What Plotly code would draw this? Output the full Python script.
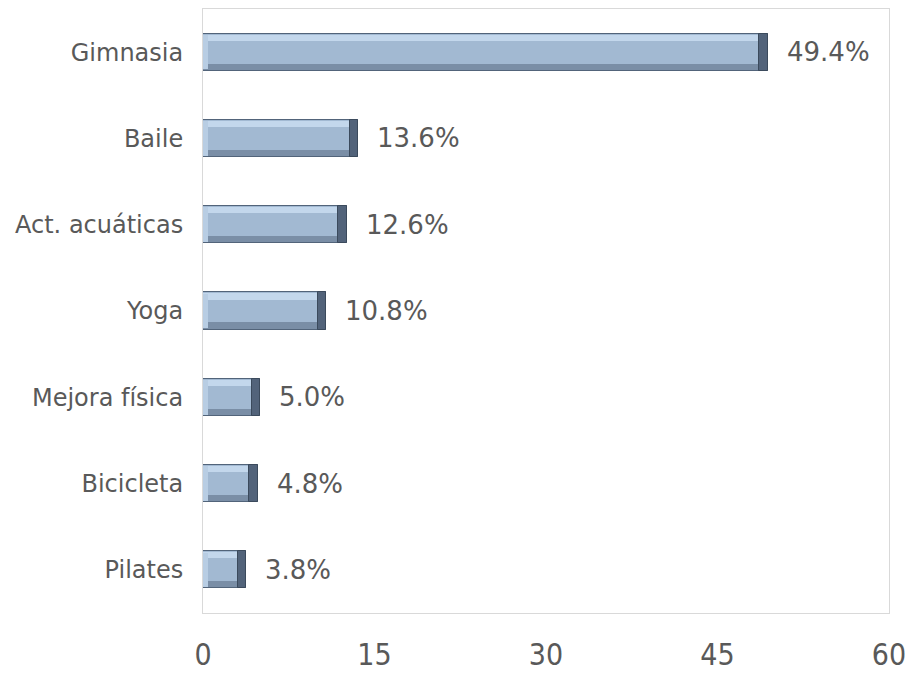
import plotly.graph_objects as go

# Share of participants by activity (%)
activities = ["Gimnasia", "Baile", "Act. acuáticas", "Yoga", "Mejora física", "Bicicleta", "Pilates"]
shares = [49.4, 13.6, 12.6, 10.8, 5.0, 4.8, 3.8]
x_ticks = [0, 15, 30, 45, 60]

BAR_W = 0.43
EDGE = 0.07        # thickness of the top/bottom bevel strips (category units)
END_CAP = 0.75     # length of the shaded right end (value units)
LEFT_CAP = 0.45    # length of the lit left end (value units)

fig = go.Figure()

# base body of every bar
fig.add_trace(go.Bar(
    y=activities, x=shares, orientation="h", width=BAR_W,
    marker=dict(color="#a2b9d2", line=dict(color="#52647a", width=1)),
    hoverinfo="skip", showlegend=False,
))
# lit top bevel
fig.add_trace(go.Bar(
    y=activities, x=shares, orientation="h", width=EDGE, offset=-BAR_W / 2 + 0.012,
    marker=dict(color="#c3d7ec", line=dict(width=0)),
    hoverinfo="skip", showlegend=False,
))
# shaded bottom bevel
fig.add_trace(go.Bar(
    y=activities, x=shares, orientation="h", width=EDGE, offset=BAR_W / 2 - EDGE - 0.012,
    marker=dict(color="#7a8ea6", line=dict(width=0)),
    hoverinfo="skip", showlegend=False,
))
# lit left end
fig.add_trace(go.Bar(
    y=activities, x=[LEFT_CAP] * len(shares), base=[0] * len(shares),
    orientation="h", width=BAR_W - 0.03,
    marker=dict(color="#b8cde3", line=dict(width=0)),
    hoverinfo="skip", showlegend=False,
))
# shaded right end
fig.add_trace(go.Bar(
    y=activities, x=[END_CAP] * len(shares), base=[v - END_CAP for v in shares],
    orientation="h", width=BAR_W,
    marker=dict(color="#52637a", line=dict(color="#3b4a5c", width=1)),
    hoverinfo="skip", showlegend=False,
))

# value labels beside each bar
for name, v in zip(activities, shares):
    fig.add_annotation(
        x=v, y=name, text=f"{v:.1f}%", showarrow=False,
        xanchor="left", yanchor="middle", xshift=17,
        font=dict(family="DejaVu Sans", size=26, color="#595959"),
    )

fig.update_layout(
    width=914, height=673,
    margin=dict(l=203, r=25, t=9, b=60),
    paper_bgcolor="white", plot_bgcolor="white",
    barmode="overlay",
    bargap=0,
    showlegend=False,
    xaxis=dict(
        range=[0, 60], tickvals=x_ticks, ticktext=[str(t) for t in x_ticks],
        showgrid=False, zeroline=False, automargin=False,
        showline=True, mirror=True, linecolor="#d9d9d9", linewidth=1,
        ticks="", ticklabelstandoff=15,
        tickfont=dict(family="DejaVu Sans Condensed, Liberation Sans Narrow, sans-serif",
                      size=30, color="#595959"),
    ),
    yaxis=dict(
        categoryorder="array", categoryarray=activities, autorange="reversed",
        showgrid=False, zeroline=False, automargin=False,
        showline=True, mirror=True, linecolor="#d9d9d9", linewidth=1,
        ticks="", ticklabelstandoff=14,
        tickfont=dict(family="DejaVu Sans", size=24, color="#595959"),
    ),
)

fig.write_html("out.html")
